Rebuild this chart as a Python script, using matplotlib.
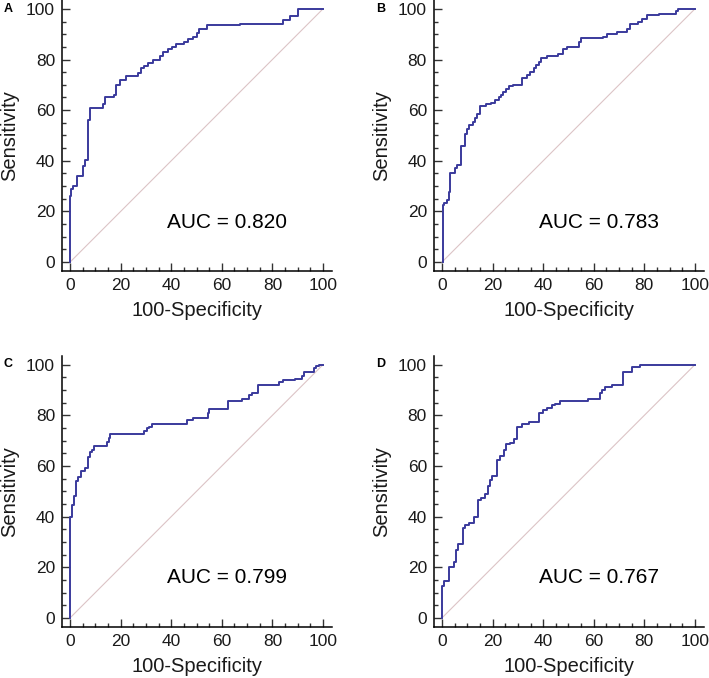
import matplotlib
matplotlib.use("Agg")
import matplotlib.pyplot as plt
from matplotlib.ticker import MultipleLocator

plt.rcParams['font.family'] = ['Liberation Sans', 'DejaVu Sans']

# ROC curve corners (100-specificity, sensitivity)
a_x = [0, 0, 0.4, 1.3, 2.9, 5.3, 5.9, 6.9, 7.7, 13.2, 13.9, 17.2, 18.1, 19.8, 22.2,
       27.0, 28.0, 29.3, 30.7, 32.7, 35.6, 36.9, 38.9, 40.2, 42.0, 44.9, 46.8, 48.8,
       50.1, 51.0, 54.1, 67.3, 84.2, 87.1, 90.0, 100]
a_y = [0, 26, 29, 30, 34, 38, 40.5, 56, 61, 62.5, 65, 66, 70, 72, 73.5,
       74.5, 76.5, 77.5, 78.5, 80, 81.5, 83, 84, 85, 86, 87, 88, 89,
       90.5, 92, 93.5, 94, 95.5, 97, 100, 100]

b_x = [0.3, 0.3, 0.9, 2.0, 2.6, 3.3, 5.3, 5.9, 7.5, 8.9, 9.9, 10.5, 12.1, 12.9, 13.8,
       14.9, 17.5, 19.5, 21.0, 22.4, 23.4, 24.3, 25.3, 26.3, 28.0, 31.6, 33.6, 34.9,
       36.2, 37.2, 38.3, 39.1, 41.7, 45.8, 48.0, 49.3, 54.3, 54.9, 63.6, 65.1, 69.1,
       73.0, 74.3, 77.6, 79.2, 80.9, 85.9, 92.5, 93.4, 100]
b_y = [0, 22.5, 23.5, 24.5, 27.5, 35, 37, 38.5, 46, 50.5, 52.5, 54, 55.5, 57, 58.5,
       61.5, 62.5, 63, 64, 65, 66, 67, 68.5, 69.5, 70, 72.5, 74, 75,
       76.5, 78, 79, 80.5, 81.5, 82, 84, 85, 87, 88.5, 89, 90, 91,
       92, 94, 95, 96, 97.5, 98, 99, 100, 100]

c_x = [0, 0, 0.7, 1.6, 2.4, 3.0, 4.2, 5.9, 6.9, 7.7, 8.6, 9.6, 14.5, 15.2, 15.8,
       29.3, 30.3, 31.4, 32.3, 46.2, 48.8, 54.4, 55.1, 62.4, 67.9, 70.6, 71.9, 74.5,
       82.5, 84.2, 89.0, 91.7, 92.6, 96.3, 97.4, 98.3, 100]
c_y = [0, 40, 44.5, 48, 54, 55.5, 58, 59, 63.5, 65.5, 66.5, 68, 69.5, 71, 72.5,
       74, 75, 75.5, 76.5, 78, 79, 81, 82.5, 85.5, 86.5, 88, 89, 92,
       93, 94, 94.5, 95.5, 97, 98.5, 99.5, 100, 100]

d_x = [0.1, 0.1, 0.7, 2.9, 4.6, 5.5, 6.3, 8.2, 9.2, 10.5, 12.5, 14.2, 15.5, 17.1, 18.2,
       19.1, 19.7, 21.7, 23.0, 24.6, 25.4, 27.0, 28.6, 29.6, 31.6, 34.2, 38.2, 39.9,
       41.4, 43.4, 44.7, 46.7, 57.9, 62.5, 63.2, 64.5, 67.1, 71.7, 75.0, 78.3, 100]
d_y = [0, 12.5, 14.5, 20, 22, 27, 29, 35.5, 36.5, 37.5, 40, 46.5, 47.5, 49, 52,
       54.5, 56, 62.5, 64, 66.5, 68.5, 69, 70.5, 75.5, 76.5, 77.5, 81, 82,
       83, 84, 84.5, 85.5, 86.5, 89, 90, 91, 92, 97, 99, 100, 100]

labels = ['A', 'B', 'C', 'D']
aucs = ['AUC = 0.820', 'AUC = 0.783', 'AUC = 0.799', 'AUC = 0.767']
curves = [(a_x, a_y), (b_x, b_y), (c_x, c_y), (d_x, d_y)]

# axes boxes in figure fractions (left, bottom, width, height)
boxes = [(0.0874, 0.600, 0.381, 0.400),
         (0.612, 0.600, 0.381, 0.400),
         (0.0874, 0.0752, 0.381, 0.400),
         (0.612, 0.0752, 0.381, 0.400)]

fig = plt.figure(figsize=(7.09, 6.78), dpi=100)

for i in range(4):
    ax = fig.add_axes(boxes[i])
    x, y = curves[i]
    ax.plot([0, 100], [0, 100], color='#dcc4c6', lw=0.8)
    ax.plot(x, y, drawstyle='steps-post', color='#3a3a9c', lw=1.4)
    ax.set_xlim(-3.2, 103.6)
    ax.set_ylim(-3.6, 103.5)
    ax.spines['top'].set_visible(False)
    ax.spines['right'].set_visible(False)
    ax.spines['left'].set_linewidth(1.1)
    ax.spines['bottom'].set_linewidth(1.1)
    ax.xaxis.set_major_locator(MultipleLocator(20))
    ax.xaxis.set_minor_locator(MultipleLocator(5))
    ax.yaxis.set_major_locator(MultipleLocator(20))
    ax.yaxis.set_minor_locator(MultipleLocator(5))
    ax.tick_params(which='major', direction='in', length=6, width=1, labelsize=12.5,
                   color='#333333', labelcolor='#1a1a1a', pad=5)
    ax.tick_params(which='minor', direction='in', length=3, width=1, color='#333333')
    ax.set_xlabel('100-Specificity', fontsize=14.5, labelpad=5.5, color='#1a1a1a')
    ax.set_ylabel('Sensitivity', fontsize=14.5, labelpad=5, color='#1a1a1a')
    ax.text(0.611, 0.181, aucs[i], transform=ax.transAxes, fontsize=15,
            ha='center', va='center')
    ax.text(-0.215, 0.968, labels[i], transform=ax.transAxes, fontsize=9,
            fontweight='bold', ha='left', va='center')

fig.savefig('out.png', dpi=100)
